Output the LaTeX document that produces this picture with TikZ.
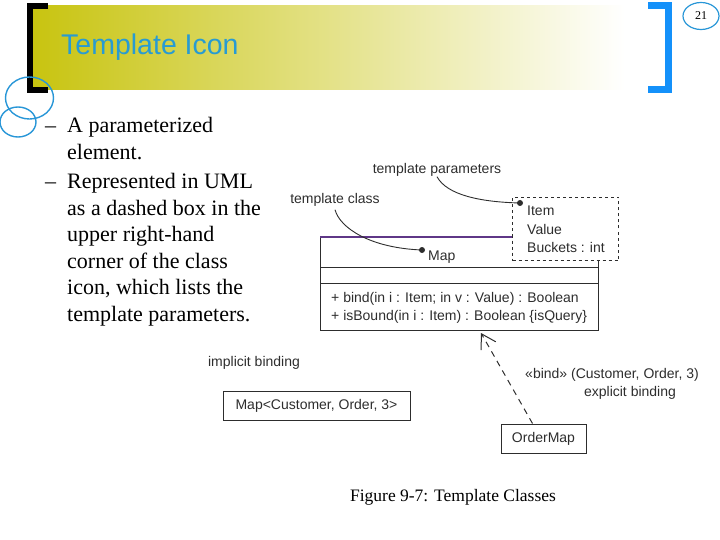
\documentclass[tikz,border=0pt]{standalone}
\usepackage{fontspec}
\setmainfont{Liberation Serif}
\setsansfont{Liberation Sans}
\usetikzlibrary{arrows.meta, shapes.geometric}
\definecolor{bannerolive}{RGB}{200,196,16}
\definecolor{bannermid}{RGB}{228,226,168}
\definecolor{titleblue}{RGB}{40,155,210}
\definecolor{bracketblue}{RGB}{20,145,250}
\definecolor{ringblue}{RGB}{40,150,215}
\definecolor{inkgray}{RGB}{45,45,45}
\definecolor{mappurple}{RGB}{95,55,135}
\begin{document}
\begin{tikzpicture}[x=1pt, y=-1pt, >={Straight Barb[length=14pt, width=17pt]},
    every node/.style={inner sep=0pt},
    lbl/.style={font=\sffamily\fontsize{14}{18.5}\selectfont, text=inkgray},
    umlbox/.style={draw=inkgray, line width=1pt, lbl},
    ring/.style={draw=ringblue, line width=1.4pt}]
    \useasboundingbox (0,0) rectangle (720,540);

    % Slide frame
    \shade[left color=bannerolive, middle color=bannermid, right color=white] (33,6) rectangle (625,90);
    \draw[line width=6.5pt] (48,6) -- (30,6) -- (30,90) -- (48,90);
    \draw[bracketblue, line width=7pt] (648,6) -- (668.5,6) -- (668.5,90) -- (648,90);
    \draw[ring] (29.5,98) ellipse [x radius=24, y radius=21];
    \draw[ring] (18,122) ellipse [x radius=18, y radius=15];
    \node[ellipse, draw=ringblue, line width=1.2pt, minimum width=36, minimum height=27,
        font=\fontsize{12}{14}\selectfont] (pgno) at (701,16) {21};
    \node[anchor=base west, font=\sffamily\fontsize{28.5}{33}\selectfont, text=titleblue] (ttl) at (61,55) {Template Icon};

    % Bullets
    \node[anchor=base west, font=\fontsize{22}{26.6}\selectfont] (dsh1) at (45,133) {--};
    \node[anchor=base west, font=\fontsize{22}{26.6}\selectfont] (dsh2) at (45,189) {--};
    \node[anchor=north west, align=left, font=\fontsize{22}{26.6}\selectfont] (txt1) at (67,117)
        {A parameterized\\element.};
    \node[anchor=north west, align=left, font=\fontsize{22}{26.6}\selectfont] (txt2) at (67,173)
        {Represented in UML\\as a dashed box in the\\upper right-hand\\corner of the class\\icon, which lists the\\template parameters.};

    % Nodes
    \node[lbl] (tparlbl) at (437,170) {template parameters};
    \node[lbl] (tclslbl) at (335,200) {template class};
    \node[draw=inkgray, line width=1pt, minimum width=278, minimum height=93, anchor=north west] (mapcls) at (320,237) {};
    \draw[inkgray, line width=1pt] ([yshift=-30pt]mapcls.north west) -- ([yshift=-30pt]mapcls.north east);
    \draw[inkgray, line width=1pt] ([yshift=-46pt]mapcls.north west) -- ([yshift=-46pt]mapcls.north east);
    \draw[mappurple, line width=1.3pt] (mapcls.north west) -- (mapcls.north east);
    \node[lbl, anchor=base west] (mapname) at (428,260) {Map};
    \node[lbl, anchor=north west, align=left] (ops) at (331,292)
        {+ bind(in i : Item; in v : Value) : Boolean\\+ isBound(in i : Item) : Boolean \{isQuery\}};
    \node[draw=inkgray, line width=1pt, dashed, fill=white, minimum width=106, minimum height=63, anchor=north west] (tpars) at (512,197) {};
    \node[lbl, anchor=north west, align=left] (tparlist) at (527,206) {Item\\Value\\Buckets : int};
    \coordinate (mapdot) at (422,250);
    \coordinate (pardot) at (520,203);
    \coordinate (bindtip) at (481,333);
    \node[lbl] (implbl) at (254,363) {implicit binding};
    \node[lbl] (bindlbl) at (612,375) {«bind» (Customer, Order, 3)};
    \node[lbl] (explbl) at (630,393) {explicit binding};
    \node[umlbox, minimum width=187, minimum height=29] (mapinst) at (316.5,405.5) {Map<Customer, Order, 3>};
    \node[umlbox, minimum width=85, minimum height=29] (ordmap) at (543.5,438.5) {OrderMap};
    \node[font=\fontsize{17.5}{21}\selectfont] (capt) at (453,497) {Figure 9-7: Template Classes};

    % Edges
    \draw[inkgray, line width=0.9pt] (tparlbl.south) .. controls (447,195) and (480,202) .. (pardot);
    \draw[inkgray, line width=0.9pt] ([yshift=-3pt]tclslbl.south) .. controls (340,228) and (370,248) .. (mapdot);
    \fill[inkgray] (pardot) circle (3);
    \fill[inkgray] (mapdot) circle (3);
    \draw[inkgray, line width=1pt, dash pattern=on 6pt off 5pt, ->] ([xshift=-11pt]ordmap.north) -- (bindtip);
\end{tikzpicture}
\end{document}
